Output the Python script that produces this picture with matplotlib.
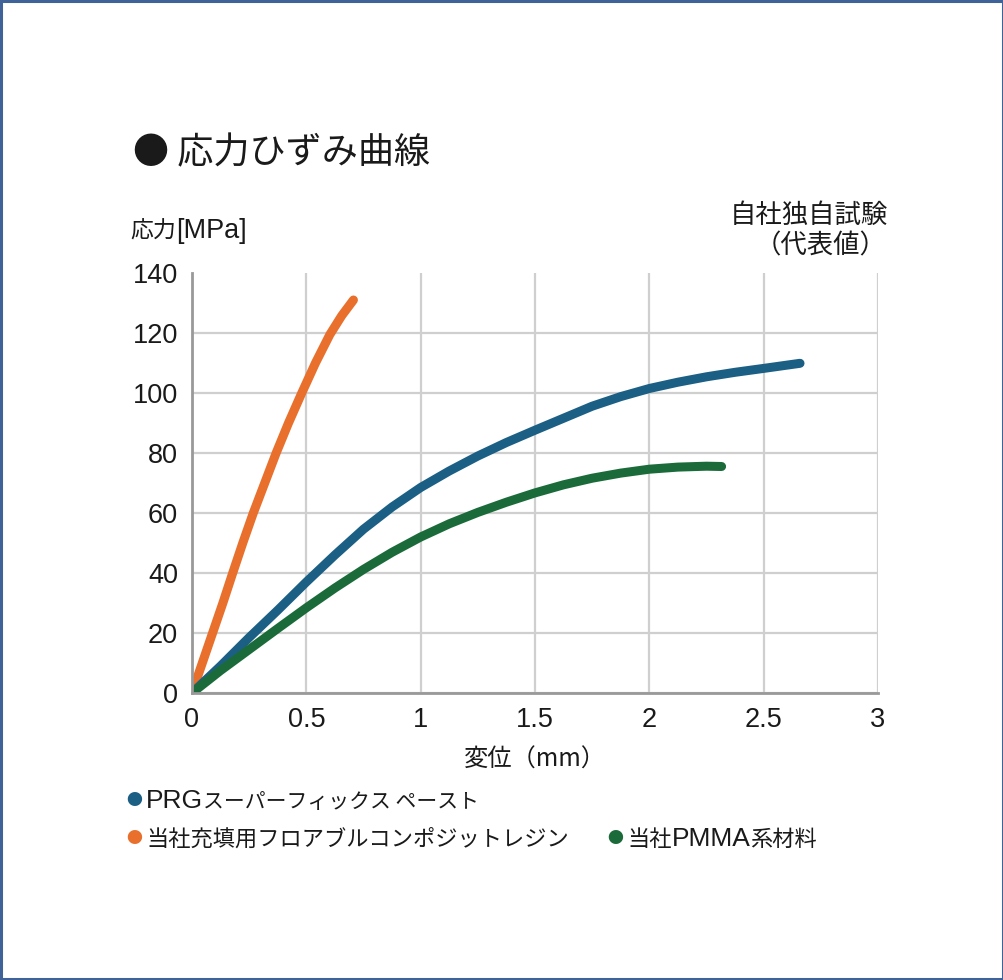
import numpy as np
import matplotlib
matplotlib.use("Agg")
import matplotlib.pyplot as plt
from matplotlib.patches import Rectangle

plt.rcParams['font.family'] = ['Noto Sans CJK JP', 'DejaVu Sans']
CJK = ['Noto Sans CJK JP', 'DejaVu Sans']
LAT = ['Liberation Sans', 'Noto Sans CJK JP']

# data (displacement mm, stress MPa)
prg_x = [0, 0.125, 0.25, 0.375, 0.5, 0.625, 0.75, 0.875, 1.0, 1.125, 1.25, 1.375,
         1.5, 1.625, 1.75, 1.875, 2.0, 2.125, 2.25, 2.375, 2.5, 2.659]
prg_y = [0, 9, 18.5, 27.6, 37, 46, 54.6, 62.0, 68.5, 74, 79, 83.5,
         87.6, 91.6, 95.6, 98.8, 101.5, 103.6, 105.4, 106.9, 108.2, 109.9]

flow_x = [0, 0.045, 0.09, 0.135, 0.178, 0.222, 0.268, 0.318, 0.368, 0.422, 0.48, 0.54,
          0.603, 0.655, 0.706]
flow_y = [0, 10, 20, 30, 40, 50, 60, 70, 80, 90, 100, 110, 119.5, 125.8, 131]

pmma_x = [0, 0.125, 0.25, 0.375, 0.5, 0.625, 0.75, 0.875, 1.0, 1.125, 1.25, 1.375,
          1.5, 1.625, 1.75, 1.875, 2.0, 2.125, 2.25, 2.316]
pmma_y = [0, 7.5, 14.5, 21.5, 28.4, 35, 41.2, 46.9, 52, 56.4, 60.2, 63.6,
          66.7, 69.4, 71.6, 73.3, 74.6, 75.3, 75.6, 75.5]

colors = ["#1b5f84", "#e8702c", "#1b6b3a"]

xticks = [0, 0.5, 1, 1.5, 2, 2.5, 3]
xticklabels = ["0", "0.5", "1", "1.5", "2", "2.5", "3"]
yticks = [0, 20, 40, 60, 80, 100, 120, 140]

W, H = 1004, 980
fig = plt.figure(figsize=(W/100, H/100), dpi=100)
fig.patch.set_facecolor("white")
fig.patches.append(Rectangle((0.001, 0.001), 0.998, 0.998, transform=fig.transFigure,
                             fill=False, edgecolor="#3f6399", linewidth=2.2))

ax = fig.add_axes([192/W, 1 - 693/H, (878-192)/W, (693-273)/H])
lw = 6.5
ax.plot(flow_x, flow_y, color=colors[1], lw=lw, solid_capstyle='round',
        solid_joinstyle='round', zorder=3)
ax.plot(prg_x, prg_y, color=colors[0], lw=lw, solid_capstyle='round',
        solid_joinstyle='round', zorder=4)
ax.plot(pmma_x, pmma_y, color=colors[2], lw=lw, solid_capstyle='round',
        solid_joinstyle='round', zorder=5)

ax.set_xlim(0, 3)
ax.set_ylim(0, 140)
ax.set_xticks(xticks)
ax.set_xticklabels(xticklabels)
ax.set_yticks(yticks)
ax.tick_params(length=0, labelsize=19.5, colors="#1a1a1a")
ax.tick_params(axis='y', pad=10)
ax.tick_params(axis='x', pad=10)
for lab in ax.get_xticklabels() + ax.get_yticklabels():
    lab.set_family(LAT)
ax.grid(True, color="#cfcfcf", lw=1.6)
ax.yaxis.get_gridlines()[-1].set_visible(False)
ax.set_axisbelow(True)
for s in ["top", "right"]:
    ax.spines[s].set_visible(False)
for s in ["left", "bottom"]:
    ax.spines[s].set_color("#999999")
    ax.spines[s].set_linewidth(2)
    ax.spines[s].set_zorder(6)

ax.set_xlabel("変位（mm）", fontsize=17.5, color="#1a1a1a", labelpad=10)

renderer = fig.canvas.get_renderer()


def runs_text(x_px, y_base, runs, color="#1a1a1a"):
    # draw text pieces one after another on a common baseline
    x = x_px
    for s, size, fam in runs:
        t = fig.text(x/W, 1 - y_base/H, s, fontsize=size, family=fam,
                     va="baseline", color=color)
        x = t.get_window_extent(renderer=renderer).x1


fig.text(133/W, 1 - 153/H, "● 応力ひずみ曲線", fontsize=26, va="center", color="#1a1a1a")
runs_text(130, 238, [("応力", 16.5, CJK), ("[MPa]", 19.5, LAT)])
fig.text(888/W, 1 - 215/H, "自社独自試験", fontsize=19, va="center", ha="right", color="#1a1a1a")
fig.text(887/W, 1 - 246/H, "（代表値）", fontsize=19, va="center", ha="right", color="#1a1a1a")

# legend
legend_runs = [
    [("PRG", 19, LAT), ("スーパーフィックス ペースト", 15, CJK)],
    [("当社充填用フロアブルコンポジットレジン", 16, CJK)],
    [("当社", 16, CJK), ("PMMA", 19, LAT), ("系材料", 16, CJK)],
]
leg_pos = [(126, 800), (126, 838), (607, 838)]
for (px, py), runs, c in zip(leg_pos, legend_runs, colors):
    fig.text(px/W, 1 - py/H, "●", color=c, fontsize=11.5, va="center")
    runs_text(px + 20, py + 8, runs)

fig.savefig("out.png", dpi=100, facecolor="white")
